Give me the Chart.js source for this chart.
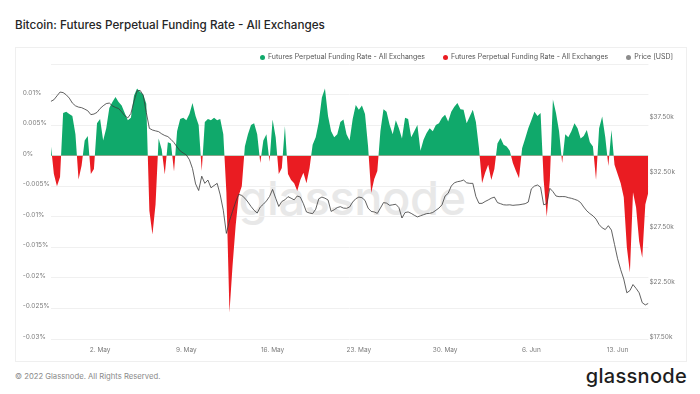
<!DOCTYPE html>
<html>
<head>
<meta charset="utf-8">
<title>Bitcoin: Futures Perpetual Funding Rate - All Exchanges</title>
<script src="https://cdn.jsdelivr.net/npm/chart.js@4.4.1/dist/chart.umd.min.js"></script>
<style>
  html, body { margin: 0; padding: 0; background: #fff; }
  body { width: 700px; height: 394px; position: relative; overflow: hidden; font-family: 'Inter', 'Noto Sans', sans-serif; }
  .title { position: absolute; left: 15px; top: 17px; font-size: 11.7px; font-weight: 500; color: #262626; line-height: 16px; white-space: nowrap; }
  .card { position: absolute; left: 15px; top: 47px; width: 670px; height: 313px; border: 1px solid #efefef; }
  .watermark { position: absolute; left: 0; width: 700px; top: 170px; text-align: center; padding-left: 4px; box-sizing: border-box;
    font-size: 47px; font-weight: 500; color: #e8e8e8; line-height: 56px; letter-spacing: -0.5px; }
  #chart-wrap { position: absolute; left: 16px; top: 48px; width: 670px; height: 313px; }
  .legend { position: absolute; right: 27px; top: 52px; display: flex; gap: 18px; font-size: 7px; color: #555; line-height: 10px; white-space: nowrap; }
  .legend-item { display: flex; align-items: center; }
  .legend-dot { width: 5px; height: 5px; border-radius: 50%; margin-right: 3px; }
  .footer { position: absolute; left: 15px; top: 371px; font-size: 7.7px; color: #8a8a8a; line-height: 12px; }
  .brand { position: absolute; right: 13px; top: 364px; font-size: 20px; font-weight: 500; color: #1e1e1e; line-height: 24px; letter-spacing: 0.3px; }
</style>
</head>
<body>
  <div class="title">Bitcoin: Futures Perpetual Funding Rate - All Exchanges</div>
  <div class="card"></div>
  <div class="watermark">glassnode</div>
  <div id="chart-wrap"><canvas id="main-chart" width="670" height="313"></canvas></div>
  <div class="legend" id="legend"></div>
  <div class="footer">© 2022 Glassnode. All Rights Reserved.</div>
  <div class="brand">glassnode</div>

<script>
// ============================================
// Funding rate vs price — 6h samples, 28 Apr to 15 Jun 2022
// x is measured in days from 2 May 00:00
// ============================================

const startDay = -4;      // 28 Apr
const stepDays = 0.25;    // one sample every 6 hours

// funding rate, in percent (0.005 means 0.005%)
const fundingRate = [
  0.0018, -0.0030, -0.0050, -0.0035, 0.0070, 0.0072, 0.0068, 0.0065, 0.0035, -0.0039,
  -0.0016, 0.0025, 0.0032, -0.0030, -0.0022, 0.0053, 0.0060, 0.0025, 0.0045, 0.0078,
  0.0088, 0.0096, 0.0088, 0.0082, 0.0070, 0.0058, 0.0062, 0.0098, 0.0110, 0.0104,
  0.0100, 0.0085, -0.0090, -0.0129, -0.0080, 0.0028, 0.0010, -0.0031, 0.0022, 0.0020,
  -0.0026, 0.0040, 0.0060, 0.0062, 0.0058, 0.0068, 0.0086, 0.0065, 0.0050, -0.0025,
  0.0055, 0.0060, 0.0058, 0.0062, 0.0058, 0.0060, 0.0035, -0.0060, -0.0257, -0.0180,
  -0.0115, -0.0065, -0.0050, 0.0015, 0.0035, 0.0050, 0.0053, 0.0035, -0.0012, 0.0025,
  0.0035, -0.0010, 0.0059, 0.0030, -0.0030, -0.0020, 0.0048, -0.0030, -0.0040, -0.0045,
  -0.0058, -0.0040, -0.0028, -0.0045, -0.0020, 0.0018, 0.0030, 0.0055, 0.0095, 0.0110,
  0.0065, 0.0040, 0.0030, 0.0035, 0.0055, 0.0059, 0.0035, 0.0025, 0.0060, 0.0083,
  0.0075, 0.0082, 0.0068, 0.0015, -0.0061, -0.0038, -0.0025, 0.0040, 0.0076, 0.0072,
  0.0050, 0.0035, 0.0058, 0.0045, 0.0028, 0.0062, 0.0060, 0.0030, 0.0040, 0.0050,
  0.0008, 0.0026, 0.0037, 0.0045, 0.0040, 0.0050, 0.0053, 0.0062, 0.0067, 0.0056,
  0.0072, 0.0080, 0.0086, 0.0076, 0.0075, 0.0053, 0.0064, 0.0075, 0.0055, 0.0012,
  -0.0045, -0.0028, -0.0015, -0.0040, -0.0022, 0.0020, 0.0029, 0.0018, 0.0015, 0.0008,
  -0.0012, -0.0025, -0.0037, 0.0012, 0.0028, 0.0045, 0.0058, 0.0072, 0.0065, 0.0070,
  -0.0040, -0.0100, -0.0040, 0.0092, 0.0070, 0.0040, -0.0012, 0.0035, 0.0030, 0.0040,
  0.0053, 0.0045, 0.0028, 0.0032, 0.0042, 0.0022, 0.0015, -0.0040, 0.0045, 0.0064,
  0.0030, -0.0017, 0.0042, -0.0015, -0.0030, -0.0045, -0.0068, -0.0150, -0.0191, -0.0060,
  -0.0085, -0.0140, -0.0167, -0.0080, -0.0060
];

// BTC price in USD, same sampling
const priceUsd = [
  39100, 39250, 39600, 39950, 39900, 39700, 39400, 38950, 38700, 38580,
  38530, 38400, 38250, 37900, 37950, 38100, 38450, 38700, 38900, 38950,
  38700, 38550, 38450, 38150, 37800, 37600, 38000, 39100, 40050, 40100,
  39650, 38100, 36650, 36500, 36420, 36350, 36150, 36000, 35900, 35650,
  35350, 34950, 34600, 34400, 34230, 33800, 33000, 31600, 31000, 32300,
  31650, 31950, 31250, 31450, 31650, 30600, 29200, 27100, 28250, 29100,
  29950, 30650, 30550, 30300, 29950, 29550, 29200, 28950, 29500, 29750,
  30050, 30450, 31100, 30300, 29550, 30000, 30150, 30440, 30300, 30150,
  30500, 30400, 29800, 29050, 28950, 28900, 29300, 30250, 30400, 30300,
  30140, 29100, 29250, 29450, 29530, 29400, 29380, 29500, 29950, 30250,
  30400, 30350, 30100, 29400, 29100, 29050, 28920, 29400, 29900, 29850,
  29650, 29700, 29750, 29450, 28500, 29000, 29050, 28920, 28750, 28600,
  28700, 28800, 28900, 28920, 29000, 29200, 29400, 29700, 30500, 30750,
  31400, 31700, 31800, 31850, 31950, 31700, 31650, 31650, 30450, 29830,
  29830, 30000, 30140, 30300, 30400, 29900, 29800, 29700, 29680, 29700,
  29650, 29680, 29700, 29750, 29800, 29950, 31150, 31400, 31500, 31300,
  29700, 29800, 31200, 30900, 30500, 30440, 30450, 30440, 30350, 30290,
  30200, 30100, 29900, 29500, 29150, 28900, 28700, 28400, 27900, 27600,
  27450, 27800, 27400, 26100, 24800, 23800, 22950, 21700, 21900, 22450,
  22100, 21700, 20800, 20600, 20740
];

// x axis ticks (days from 2 May) and their labels
const xTickDays = [0, 7, 14, 21, 28, 35, 42];
const xTickLabels = ['2. May', '9. May', '16. May', '23. May', '30. May', '6. Jun', '13. Jun'];

const seriesNames = [
  'Futures Perpetual Funding Rate - All Exchanges',
  'Futures Perpetual Funding Rate - All Exchanges',
  'Price [USD]'
];

const GREEN = '#10a96b';
const RED = '#ea1c22';
const PRICE_LINE = '#3a3a3a';
const PRICE_DOT = '#8c8c8c';
const legendColors = [GREEN, RED, PRICE_DOT];

const AXIS_FONT = { family: "'Inter', sans-serif", size: 6.5 };
const AXIS_COLOR = '#7a7a7a';

function toPoints(values) {
  return values.map((v, i) => ({ x: startDay + i * stepDays, y: v }));
}

function renderLegend() {
  const container = document.getElementById('legend');
  container.innerHTML = seriesNames.map((name, i) => `
    <div class="legend-item">
      <span class="legend-dot" style="background:${legendColors[i]}"></span>
      <span>${name}</span>
    </div>
  `).join('');
}

function formatRate(v) {
  if (v > 0.0125) return '';
  return (+v.toFixed(3)) + '%';
}

function formatPrice(v) {
  if (v > 40000) return '';
  return '$' + (v / 1000).toFixed(2) + 'k';
}

function renderChart() {
  const ctx = document.getElementById('main-chart').getContext('2d');

  new Chart(ctx, {
    type: 'line',
    data: {
      datasets: [
        {
          label: seriesNames[0],
          data: toPoints(fundingRate),
          yAxisID: 'y',
          borderWidth: 0,
          borderColor: 'transparent',
          pointRadius: 0,
          tension: 0,
          fill: { target: 'origin', above: GREEN, below: RED },
          order: 1
        },
        {
          label: seriesNames[2],
          data: toPoints(priceUsd),
          yAxisID: 'y1',
          borderColor: PRICE_LINE,
          borderWidth: 0.8,
          pointRadius: 0,
          tension: 0,
          fill: false,
          order: 0
        }
      ]
    },
    options: {
      responsive: false,
      animation: false,
      layout: { padding: { left: 6.7, right: 0, top: 16, bottom: 0 } },
      plugins: {
        legend: { display: false },
        tooltip: { enabled: false }
      },
      scales: {
        x: {
          type: 'linear',
          min: startDay,
          max: startDay + (fundingRate.length - 1) * stepDays,
          grid: { display: false, drawTicks: false },
          border: { display: false },
          afterBuildTicks: scale => { scale.ticks = xTickDays.map(v => ({ value: v })); },
          afterFit: scale => { scale.height = 22; },
          ticks: {
            autoSkip: false,
            maxRotation: 0,
            padding: 7,
            color: AXIS_COLOR,
            font: AXIS_FONT,
            callback: value => xTickLabels[xTickDays.indexOf(value)]
          }
        },
        y: {
          position: 'left',
          min: -0.03,
          max: 0.015,
          grid: { color: '#f0f0f0', lineWidth: 1, drawTicks: false },
          border: { display: false },
          afterFit: scale => { scale.width = 28.1; },
          ticks: {
            stepSize: 0.005,
            crossAlign: 'far',
            labelOffset: -2,
            padding: 0,
            color: AXIS_COLOR,
            font: AXIS_FONT,
            callback: formatRate
          }
        },
        y1: {
          position: 'right',
          min: 17500,
          max: 42500,
          grid: { display: false, drawTicks: false },
          border: { display: false },
          afterFit: scale => { scale.width = 37.6; },
          ticks: {
            stepSize: 5000,
            labelOffset: -2,
            padding: 1,
            color: AXIS_COLOR,
            font: AXIS_FONT,
            callback: formatPrice
          }
        }
      }
    }
  });
}

renderLegend();
renderChart();
</script>
</body>
</html>
